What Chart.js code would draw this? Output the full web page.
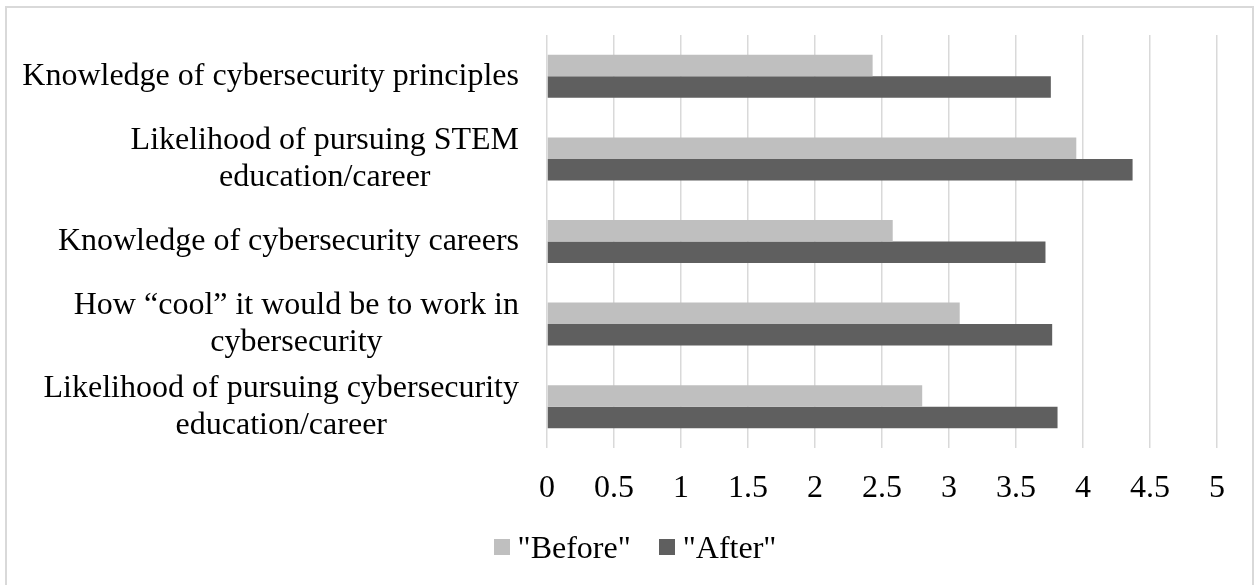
<!DOCTYPE html>
<html>
<head>
<meta charset="utf-8">
<title>Before / After survey</title>
<script src="https://cdn.jsdelivr.net/npm/chart.js@4.4.1/dist/chart.umd.min.js"></script>
<style>
    body { margin: 0; background: #ffffff; overflow: hidden; }
    #wrap { position: relative; width: 1255px; height: 585px; }
    #frame {
        position: absolute; left: 5px; top: 6px; width: 1249px; height: 620px;
        border: 2px solid #d9d9d9; box-sizing: border-box; pointer-events: none;
    }
    #legend {
        position: absolute; left: 0; top: 529px; width: 1255px; box-sizing: border-box;
        padding-left: 15px; display: flex; justify-content: center; align-items: center;
        font-family: "Liberation Serif", "Times New Roman", serif; font-size: 32px;
        line-height: 36px; color: #000000;
    }
    #legend .item { display: flex; align-items: center; margin: 0 14px; }
    #legend .box { width: 16px; height: 16px; margin-right: 8px; }
</style>
</head>
<body>
<div id="wrap">
    <canvas id="surveyChart"></canvas>
    <div id="legend"></div>
    <div id="frame"></div>
</div>
<script>
// Chart data
const categories = [
    ['Knowledge of cybersecurity principles'],
    ['Likelihood of pursuing STEM', 'education/career'],
    ['Knowledge of cybersecurity careers'],
    ['How \u201ccool\u201d it would be to work in', 'cybersecurity'],
    ['Likelihood of pursuing cybersecurity', 'education/career']
];
const seriesNames = ['"Before"', '"After"'];
const beforeValues = [2.43, 3.95, 2.58, 3.08, 2.80];
const afterValues = [3.76, 4.37, 3.72, 3.77, 3.81];
const xTickValues = [0, 0.5, 1, 1.5, 2, 2.5, 3, 3.5, 4, 4.5, 5];
const xTickLabels = ['0', '0.5', '1', '1.5', '2', '2.5', '3', '3.5', '4', '4.5', '5'];

// Styling
const FONT = '"Liberation Serif", "Times New Roman", serif';
const FONT_SIZE = 32;
const LINE_H = 37;

// Category labels: each block right aligned, lines centred inside the block
const blockLabels = {
    id: 'blockLabels',
    afterDraw(chart) {
        const scale = chart.scales.y;
        const ctx = chart.ctx;
        ctx.save();
        ctx.font = `${FONT_SIZE}px ${FONT}`;
        ctx.fillStyle = '#000000';
        ctx.textAlign = 'center';
        ctx.textBaseline = 'middle';
        const right = scale.right - 28;
        categories.forEach((lines, i) => {
            const y = scale.getPixelForTick(i);
            const w = Math.max(...lines.map(l => ctx.measureText(l).width));
            const cx = right - w / 2;
            lines.forEach((line, j) => {
                ctx.fillText(line, cx, y + (j - (lines.length - 1) / 2) * LINE_H);
            });
        });
        ctx.restore();
    }
};

const ctx = document.getElementById('surveyChart').getContext('2d');
const surveyChart = new Chart(ctx, {
    type: 'bar',
    data: {
        labels: categories,
        datasets: [
            {
                label: seriesNames[0],
                data: beforeValues,
                backgroundColor: '#bfbfbf',
                borderWidth: 0
            },
            {
                label: seriesNames[1],
                data: afterValues,
                backgroundColor: '#5f5f5f',
                borderWidth: 0
            }
        ]
    },
    options: {
        indexAxis: 'y',
        responsive: true,
        maintainAspectRatio: false,
        animation: false,
        categoryPercentage: 0.52,
        barPercentage: 1.0,
        layout: {
            padding: { left: 8, right: 0, top: 35, bottom: 67 }
        },
        scales: {
            x: {
                type: 'linear',
                min: 0,
                max: 5,
                afterBuildTicks: scale => {
                    scale.ticks = xTickValues.map(v => ({ value: v }));
                },
                afterFit: scale => { scale.height = 70; },
                grid: {
                    color: '#d9d9d9',
                    lineWidth: 1.5,
                    drawTicks: false
                },
                border: { display: false },
                ticks: {
                    color: '#000000',
                    padding: 21,
                    font: { family: FONT, size: FONT_SIZE },
                    callback: (value, index) => xTickLabels[index]
                }
            },
            y: {
                afterFit: scale => { scale.width = 539; },
                grid: { display: false },
                border: { display: false },
                ticks: { display: false }
            },
            yRight: {
                type: 'linear',
                position: 'right',
                display: true,
                afterFit: scale => { scale.width = 38; },
                grid: { display: false },
                border: { display: false },
                ticks: { display: false }
            }
        },
        plugins: {
            legend: { display: false },
            tooltip: { enabled: false }
        }
    },
    plugins: [blockLabels]
});

// Legend built from the datasets
const legendEl = document.getElementById('legend');
surveyChart.data.datasets.forEach(ds => {
    const item = document.createElement('div');
    item.className = 'item';
    const box = document.createElement('span');
    box.className = 'box';
    box.style.background = ds.backgroundColor;
    const text = document.createElement('span');
    text.textContent = ds.label;
    item.appendChild(box);
    item.appendChild(text);
    legendEl.appendChild(item);
});
</script>
</body>
</html>
